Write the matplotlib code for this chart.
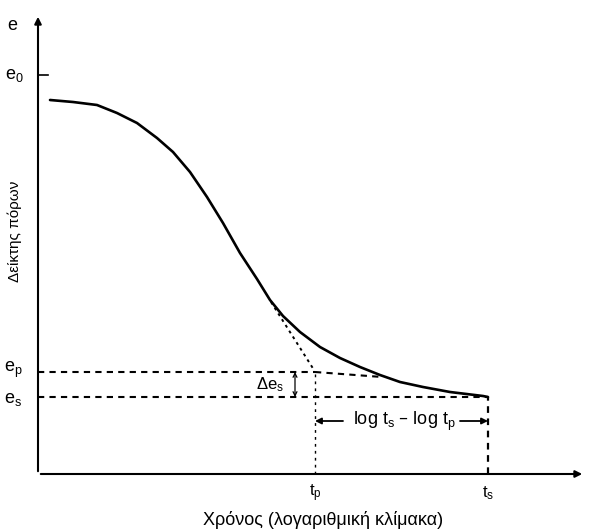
import numpy as np
import matplotlib
matplotlib.use('Agg')
import matplotlib.pyplot as plt

plt.rcParams['font.family'] = ['Liberation Sans', 'DejaVu Sans']
plt.rcParams['mathtext.default'] = 'regular'

# void ratio vs log time (arbitrary units, origin at axes corner)
logT = [0.12, 0.35, 0.59, 0.79, 0.99, 1.19, 1.35, 1.52, 1.69, 1.85, 2.02, 2.19,
        2.32, 2.45, 2.62, 2.82, 3.02, 3.22, 3.42, 3.62, 3.85, 4.12, 4.45, 4.50]
eVals = [3.74, 3.72, 3.69, 3.61, 3.51, 3.36, 3.22, 3.02, 2.77, 2.51, 2.21, 1.95,
         1.74, 1.58, 1.42, 1.27, 1.16, 1.07, 0.99, 0.92, 0.87, 0.82, 0.78, 0.77]

e0 = 3.99
ep = 1.02
es = 0.77
tp = 2.77
ts = 4.50
tangentX = [2.33, 2.76]
tangentY = [1.72, 1.04]
secX = [tp, 3.44]
secY = [ep, 0.97]
xMax = 5.47
yMax = 4.60

fig = plt.figure(figsize=(5.92, 5.30), dpi=100)
ax = fig.add_axes([0, 0, 1, 1])
ax.set_xlim(-0.38, 5.54)
ax.set_ylim(-0.56, 4.74)
ax.axis('off')

k = 'black'
# axes with arrows
ax.annotate('', xy=(0, yMax), xytext=(0, 0),
            arrowprops=dict(arrowstyle='-|>', color=k, lw=1.5, mutation_scale=10))
ax.annotate('', xy=(xMax, 0), xytext=(0, 0),
            arrowprops=dict(arrowstyle='-|>', color=k, lw=1.5, mutation_scale=10))
ax.plot([0, 0.1], [e0, e0], color=k, lw=1.2)

# main curve
ax.plot(logT, eVals, color=k, lw=1.9, solid_capstyle='round', solid_joinstyle='round')

# construction lines
dash = (0, (3, 2.5))
ax.plot([0, tp], [ep, ep], color=k, lw=1.5, ls=dash)
ax.plot(secX, secY, color=k, lw=1.5, ls=dash)
ax.plot([0, ts], [es, es], color=k, lw=1.5, ls=dash)
ax.plot(tangentX, tangentY, color=k, lw=1.4, ls=(0, (1.5, 2)))
ax.plot([tp, tp], [0, ep], color=k, lw=1.0, ls=(0, (2, 3)))
ax.plot([ts, ts], [0, es], color=k, lw=1.6, ls=dash)

# delta e arrow
ax.annotate('', xy=(2.57, ep), xytext=(2.57, es),
            arrowprops=dict(arrowstyle='<->', color=k, lw=0.9, mutation_scale=7,
                            shrinkA=0, shrinkB=0))
ax.text(2.32, (ep + es) / 2, r'$\Delta e_s$', fontsize=12, ha='center', va='center')

# log ts - log tp arrow
yArr = 0.53
ax.text((tp + ts) / 2 + 0.03, yArr, 'log $t_s$ \u2013 log $t_p$', fontsize=13,
        ha='center', va='center')
ax.annotate('', xy=(tp, yArr), xytext=(3.05, yArr),
            arrowprops=dict(arrowstyle='-|>', color=k, lw=1.3, mutation_scale=9,
                            shrinkA=0, shrinkB=0))
ax.annotate('', xy=(ts, yArr), xytext=(4.22, yArr),
            arrowprops=dict(arrowstyle='-|>', color=k, lw=1.3, mutation_scale=9,
                            shrinkA=0, shrinkB=0))

# labels
ax.text(-0.26, 4.49, 'e', fontsize=13, ha='center', va='center')
ax.text(-0.24, e0, r'$e_0$', fontsize=13, ha='center', va='center')
ax.text(-0.25, ep + 0.02, r'$e_p$', fontsize=13, ha='center', va='center')
ax.text(-0.25, es - 0.03, r'$e_s$', fontsize=13, ha='center', va='center')
ax.text(tp, -0.19, r'$t_p$', fontsize=12, ha='center', va='center')
ax.text(ts, -0.19, r'$t_s$', fontsize=12, ha='center', va='center')
ax.text(2.85, -0.46, 'Χρόνος (λογαριθμική κλίμακα)', fontsize=13,
        ha='center', va='center')
ax.text(-0.23, 2.43, 'Δείκτης πόρων', fontsize=11, rotation=90,
        ha='center', va='center')

fig.savefig('out.png', dpi=100)
